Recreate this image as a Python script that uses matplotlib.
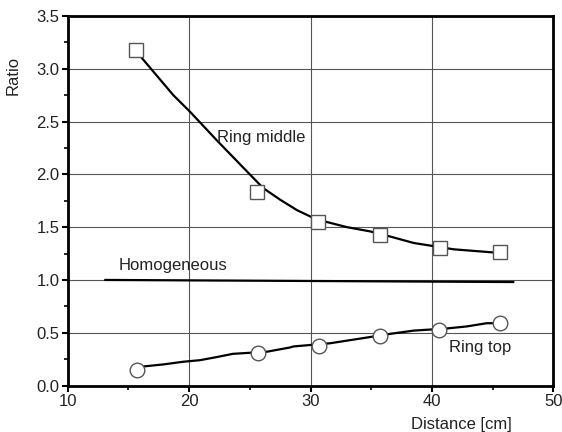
import matplotlib
matplotlib.use('Agg')
import matplotlib.pyplot as plt
from matplotlib.ticker import MultipleLocator

plt.rcParams['font.family'] = ['Liberation Sans', 'DejaVu Sans']

# curve traces
mid_x = [15.9, 18.7, 20.1, 22.3, 25.0, 26.1, 27.5, 28.9, 30.0, 31.3, 33.0,
         34.9, 36.6, 38.5, 39.6, 41.8, 44.0, 45.1, 45.6]
mid_y = [3.13, 2.75, 2.59, 2.32, 2.00, 1.87, 1.76, 1.66, 1.60, 1.55, 1.50,
         1.46, 1.41, 1.35, 1.33, 1.29, 1.27, 1.26, 1.26]

top_x = [16.2, 17.9, 19.5, 20.9, 22.3, 23.6, 26.4, 28.3, 28.6, 31.6, 34.4, 36.6,
         38.5, 41.2, 42.9, 44.5, 45.6]
top_y = [0.18, 0.20, 0.225, 0.24, 0.27, 0.30, 0.32, 0.36, 0.37, 0.40, 0.45, 0.49,
         0.52, 0.54, 0.56, 0.59, 0.59]

hom_x = [13.1, 30.0, 46.7]
hom_y = [1.00, 0.99, 0.98]

# measured points
sq_x = [15.6, 25.6, 30.6, 35.7, 40.7, 45.6]
sq_y = [3.18, 1.83, 1.55, 1.43, 1.30, 1.26]
ci_x = [15.7, 25.7, 30.7, 35.7, 40.6, 45.6]
ci_y = [0.15, 0.31, 0.37, 0.47, 0.525, 0.59]

fig = plt.figure(figsize=(5.62, 4.32), dpi=100)
ax = fig.add_axes([0.1205, 0.1076, 0.864, 0.8554])

ax.grid(True, color='#555555', linewidth=0.8)
ax.set_axisbelow(True)

ax.plot(mid_x, mid_y, color='black', lw=1.6, zorder=3)
ax.plot(top_x, top_y, color='black', lw=1.6, zorder=3)
ax.plot(hom_x, hom_y, color='black', lw=1.6, zorder=3)
ax.plot(sq_x, sq_y, 's', ms=9.5, mfc='white', mec='#555555', mew=1.0, zorder=4)
ax.plot(ci_x, ci_y, 'o', ms=10.5, mfc='white', mec='#555555', mew=1.0, zorder=4)

fs = 12
ax.text(22.3, 2.35, 'Ring middle', fontsize=fs, va='center', ha='left', color='#222222')
ax.text(14.2, 1.14, 'Homogeneous', fontsize=fs, va='center', ha='left', color='#222222')
ax.text(41.4, 0.36, 'Ring top', fontsize=fs, va='center', ha='left', color='#222222')

ax.set_xlim(10, 50)
ax.set_ylim(0, 3.5)
ax.xaxis.set_major_locator(MultipleLocator(10))
ax.xaxis.set_minor_locator(MultipleLocator(5))
ax.yaxis.set_major_locator(MultipleLocator(0.5))
ax.yaxis.set_minor_locator(MultipleLocator(0.25))
ax.yaxis.set_major_formatter(plt.FormatStrFormatter('%.1f'))
ax.tick_params(which='major', length=4, width=1.5, labelsize=fs, labelcolor='#222222', pad=2)
ax.tick_params(which='minor', length=3, width=1.2)
for s in ax.spines.values():
    s.set_linewidth(2)

ax.set_ylabel('Ratio', fontsize=fs, color='#222222')
ax.yaxis.set_label_coords(-0.098, 0.84)
ax.set_xlabel('Distance [cm]', fontsize=fs, color='#222222')
ax.xaxis.set_label_coords(0.81, -0.085)

fig.savefig('out.png', dpi=100)
